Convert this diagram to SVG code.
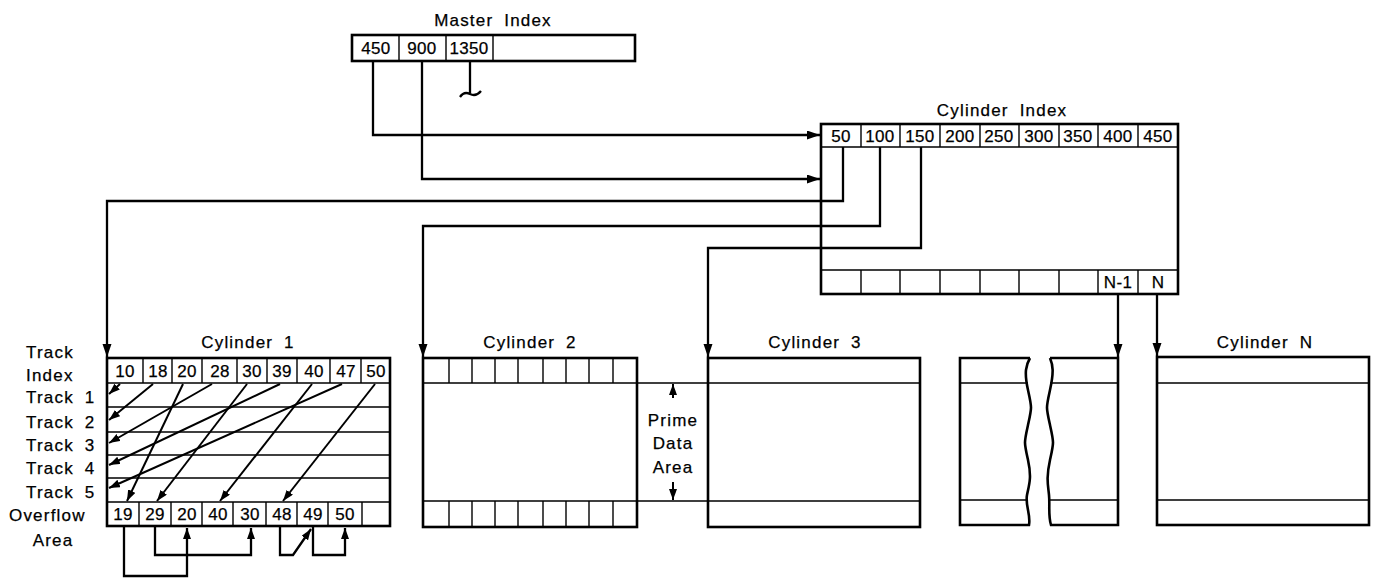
<svg xmlns="http://www.w3.org/2000/svg" width="1376" height="580" viewBox="0 0 1376 580">
<style>
.t{font-family:"Liberation Sans",Arial,sans-serif;font-size:17px;letter-spacing:1.2px;fill:#000;stroke:#000;stroke-width:0.25px}
.n{letter-spacing:0.3px}
.m{text-anchor:middle}
.w{word-spacing:5px}
.box{fill:none;stroke:#000;stroke-width:2.6}
.thin{fill:none;stroke:#000;stroke-width:1.4}
.con{fill:none;stroke:#000;stroke-width:2.3}
.con2{fill:none;stroke:#000;stroke-width:2}
</style>
<defs>
<marker id="ah" markerUnits="userSpaceOnUse" markerWidth="14" markerHeight="10" refX="13" refY="4.5" orient="auto"><path d="M0,0 L13,4.5 L0,9 z" fill="#000"/></marker>
<marker id="as" markerUnits="userSpaceOnUse" markerWidth="12" markerHeight="9" refX="11" refY="4" orient="auto"><path d="M0,0 L11,4 L0,8 z" fill="#000"/></marker>
</defs>
<rect width="1376" height="580" fill="#fff"/>

<g id="master-index">
<text class="t m w" x="493" y="26">Master Index</text>
<rect class="box" x="352" y="35" width="283" height="26"/>
<path class="thin" d="M399 35V61M446 35V61M493 35V61"/>
<text class="t n m" x="376" y="54">450</text>
<text class="t n m" x="422" y="54">900</text>
<text class="t n m" x="469" y="54">1350</text>
<path class="con" d="M470 61V93"/>
<path class="con" d="M460 97Q464 91 470 94T481 91"/>
</g>

<g id="cylinder-index">
<text class="t m w" x="1002" y="116">Cylinder Index</text>
<rect class="box" x="821" y="124" width="357" height="170"/>
<path class="thin" d="M821 147H1178M821 270H1178M861 124V147M900 124V147M940 124V147M980 124V147M1019 124V147M1059 124V147M1098 124V147M1138 124V147M861 270V294M900 270V294M940 270V294M980 270V294M1019 270V294M1059 270V294M1098 270V294M1138 270V294"/>
<text class="t n m" x="841" y="142">50</text>
<text class="t n m" x="880" y="142">100</text>
<text class="t n m" x="920" y="142">150</text>
<text class="t n m" x="960" y="142">200</text>
<text class="t n m" x="999" y="142">250</text>
<text class="t n m" x="1039" y="142">300</text>
<text class="t n m" x="1078" y="142">350</text>
<text class="t n m" x="1118" y="142">400</text>
<text class="t n m" x="1158" y="142">450</text>
<text class="t n m" x="1118" y="288">N-1</text>
<text class="t n m" x="1158" y="288">N</text>
</g>

<g id="cylinder-1">
<text class="t m w" x="248" y="348">Cylinder 1</text>
<text class="t" x="26" y="358">Track</text>
<text class="t" x="26" y="381">Index</text>
<text class="t w" x="26" y="403">Track 1</text>
<text class="t w" x="26" y="428">Track 2</text>
<text class="t w" x="26" y="451">Track 3</text>
<text class="t w" x="26" y="474">Track 4</text>
<text class="t w" x="26" y="498">Track 5</text>
<text class="t" x="9" y="521">Overflow</text>
<text class="t m" x="53" y="546">Area</text>
<rect class="box" x="107" y="358" width="283" height="168"/>
<path class="thin" d="M107 383H390M107 407H390M107 432H390M107 455H390M107 478H390M107 502H390"/>
<path class="thin" d="M143 358V383M172 358V383M202 358V383M237 358V383M267 358V383M297 358V383M330 358V383M361 358V383"/>
<path class="thin" d="M139 502V526M171 502V526M202 502V526M233 502V526M266 502V526M297 502V526M328 502V526M362 502V526"/>
<text class="t n m" x="125" y="377">10</text>
<text class="t n m" x="158" y="377">18</text>
<text class="t n m" x="187" y="377">20</text>
<text class="t n m" x="220" y="377">28</text>
<text class="t n m" x="252" y="377">30</text>
<text class="t n m" x="282" y="377">39</text>
<text class="t n m" x="314" y="377">40</text>
<text class="t n m" x="346" y="377">47</text>
<text class="t n m" x="376" y="377">50</text>
<text class="t n m" x="123" y="520">19</text>
<text class="t n m" x="155" y="520">29</text>
<text class="t n m" x="187" y="520">20</text>
<text class="t n m" x="218" y="520">40</text>
<text class="t n m" x="250" y="520">30</text>
<text class="t n m" x="282" y="520">48</text>
<text class="t n m" x="313" y="520">49</text>
<text class="t n m" x="345" y="520">50</text>
</g>

<g id="cylinder-2">
<text class="t m w" x="530" y="348">Cylinder 2</text>
<rect class="box" x="423" y="358" width="214" height="169"/>
<path class="thin" d="M423 383H637M423 501H637M449 358V383M472 358V383M495 358V383M518 358V383M543 358V383M566 358V383M589 358V383M613 358V383M449 501V527M472 501V527M495 501V527M518 501V527M543 501V527M566 501V527M589 501V527M613 501V527"/>
</g>

<g id="prime-data-area">
<path class="thin" d="M637 383H708M637 501H708"/>
<path class="con2" d="M673 398V384" marker-end="url(#as)"/>
<path class="con2" d="M673 482V500" marker-end="url(#as)"/>
<text class="t m" x="673" y="426">Prime</text>
<text class="t m" x="673" y="449">Data</text>
<text class="t m" x="673" y="473">Area</text>
</g>

<g id="cylinder-3">
<text class="t m w" x="815" y="348">Cylinder 3</text>
<rect class="box" x="708" y="358" width="212" height="169"/>
<path class="thin" d="M708 383H920M708 501H920"/>
</g>

<g id="cylinder-break">
<path class="box" d="M1030 358H960V525H1029C1031 515 1025 505 1027 495S1032 478 1028 460S1024 443 1028 425S1032 408 1028 390S1026 365 1030 358"/>
<path class="thin" d="M960 383H1028M960 500H1028"/>
<path class="box" d="M1050 358H1118V525H1051C1048 515 1050 505 1049 495S1046 478 1050 460S1054 443 1050 425S1046 408 1050 390S1053 365 1050 358"/>
<path class="thin" d="M1050 383H1118M1050 500H1118"/>
</g>

<g id="cylinder-n">
<text class="t m w" x="1265" y="348">Cylinder N</text>
<rect class="box" x="1157" y="357" width="212" height="168"/>
<path class="thin" d="M1157 383H1369M1157 500H1369"/>
</g>

<g id="connectors">
<path class="con" d="M373 61V135H820" marker-end="url(#ah)"/>
<path class="con" d="M422 61V179H820" marker-end="url(#ah)"/>
<path class="con" d="M843 147V201H107V357" marker-end="url(#ah)"/>
<path class="con" d="M880 147V226H423V357" marker-end="url(#ah)"/>
<path class="con" d="M921 147V248H708V357" marker-end="url(#ah)"/>
<path class="con" d="M1118 294V357" marker-end="url(#ah)"/>
<path class="con" d="M1157 294V356" marker-end="url(#ah)"/>
<path class="con2" d="M120 384L109 394" marker-end="url(#as)"/>
<path class="con2" d="M153 384L109 420" marker-end="url(#as)"/>
<path class="con2" d="M183 384L127 501" marker-end="url(#as)"/>
<path class="con2" d="M212 384L109 443" marker-end="url(#as)"/>
<path class="con2" d="M247 384L157 501" marker-end="url(#as)"/>
<path class="con2" d="M280 384L109 465" marker-end="url(#as)"/>
<path class="con2" d="M312 384L220 501" marker-end="url(#as)"/>
<path class="con2" d="M342 384L109 488" marker-end="url(#as)"/>
<path class="con2" d="M375 384L283 501" marker-end="url(#as)"/>
<path class="con" d="M124 527V576H187V528" marker-end="url(#as)"/>
<path class="con" d="M155 527V555H251V528" marker-end="url(#as)"/>
<path class="con" d="M280 527V555H293L311 529" marker-end="url(#as)"/>
<path class="con" d="M313 527V555H345V528" marker-end="url(#as)"/>
</g>
</svg>
